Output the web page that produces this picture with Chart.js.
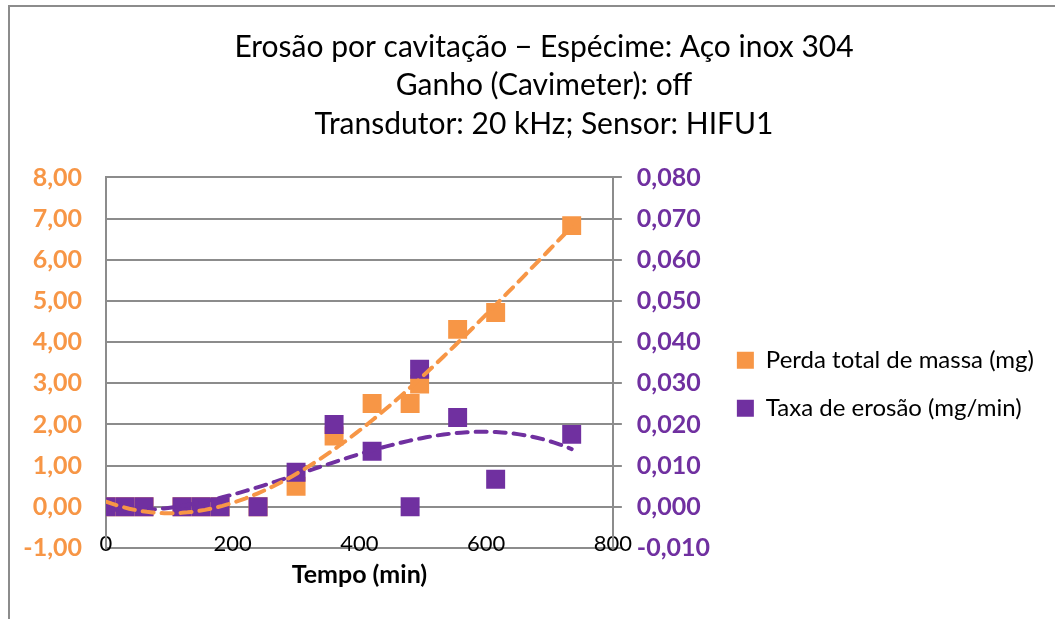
<!DOCTYPE html>
<html>
<head>
<meta charset="utf-8">
<script src="https://cdn.jsdelivr.net/npm/chart.js@4.4.1/dist/chart.umd.min.js"></script>
<style>
  html, body { margin: 0; padding: 0; background: #fff; }
  #wrap { width: 1055px; height: 619px; position: relative; }
</style>
</head>
<body>
<div id="wrap"><canvas id="erosaoChart"></canvas></div>
<script>
// dados
const tempoMin = [0, 30, 60, 120, 150, 180, 240, 300, 360, 420, 480, 495, 555, 615, 735];
const perdaMassa = [0, 0, 0, 0, 0, 0, 0, 0.50, 1.72, 2.51, 2.51, 2.98, 4.31, 4.72, 6.83];
const taxaErosao = [0, 0, 0, 0, 0, 0, 0, 0.0084, 0.0200, 0.0135, 0, 0.0334, 0.0217, 0.0067, 0.0176];
const xTicks = [0, 200, 400, 600, 800];
const massaTicks = [-1, 0, 1, 2, 3, 4, 5, 6, 7, 8];
const taxaTicks = [-0.01, 0, 0.01, 0.02, 0.03, 0.04, 0.05, 0.06, 0.07, 0.08];
const titulo = ['Erosão por cavitação \u2212 Espécime: Aço inox 304', 'Ganho (Cavimeter): off', 'Transdutor: 20 kHz; Sensor: HIFU1'];

const laranja = '#F79646';
const roxo = '#7030A0';
const cinza = '#8c8c8c';

// linha de tendência polinomial (mínimos quadrados), como no Excel
function polyFit(xs, ys, order) {
    const n = order + 1;
    const A = Array.from({ length: n }, () => new Array(n + 1).fill(0));
    xs.forEach((x0, k) => {
        const x = x0 / 100;
        for (let i = 0; i < n; i++) {
            for (let j = 0; j < n; j++) A[i][j] += Math.pow(x, i + j);
            A[i][n] += ys[k] * Math.pow(x, i);
        }
    });
    for (let c = 0; c < n; c++) {
        let p = c;
        for (let r = c + 1; r < n; r++) if (Math.abs(A[r][c]) > Math.abs(A[p][c])) p = r;
        [A[c], A[p]] = [A[p], A[c]];
        for (let r = 0; r < n; r++) {
            if (r === c) continue;
            const f = A[r][c] / A[c][c];
            for (let k = c; k <= n; k++) A[r][k] -= f * A[c][k];
        }
    }
    const coef = A.map((row, i) => row[n] / row[i]);
    return x => coef.reduce((s, a, i) => s + a * Math.pow(x / 100, i), 0);
}

function trendPoints(xs, ys, order) {
    const f = polyFit(xs, ys, order);
    const x0 = Math.min(...xs), x1 = Math.max(...xs);
    const pts = [];
    for (let i = 0; i <= 80; i++) {
        const x = x0 + (x1 - x0) * i / 80;
        pts.push({ x: x, y: f(x) });
    }
    return pts;
}

const toPts = (xs, ys) => xs.map((x, i) => ({ x: x, y: ys[i] }));

const chartBorder = {
    id: 'chartBorder',
    beforeDraw(chart) {
        const c = chart.ctx;
        c.save();
        c.fillStyle = '#fff';
        c.fillRect(0, 0, chart.width, chart.height);
        c.strokeStyle = cinza;
        c.lineWidth = 2;
        c.strokeRect(9, 6, 2000, 2000);
        c.restore();
    }
};

// o título do Excel fica centrado na área do gráfico inteiro (que passa da borda direita)
const tituloDeslocado = {
    id: 'tituloDeslocado',
    afterLayout(chart) {
        chart.titleBlock.left += 12;
        chart.titleBlock.right += 12;
    }
};

const ctx = document.getElementById('erosaoChart').getContext('2d');
new Chart(ctx, {
    type: 'scatter',
    data: {
        datasets: [{
            label: 'Perda total de massa (mg)',
            data: toPts(tempoMin, perdaMassa),
            yAxisID: 'yMassa',
            pointStyle: 'rect',
            pointRadius: 13.4,
            pointHoverRadius: 13.4,
            pointBorderWidth: 0,
            backgroundColor: laranja,
            borderColor: laranja,
            order: 3
        }, {
            label: 'Taxa de erosão (mg/min)',
            data: toPts(tempoMin, taxaErosao),
            yAxisID: 'yTaxa',
            pointStyle: 'rect',
            pointRadius: 13.4,
            pointHoverRadius: 13.4,
            pointBorderWidth: 0,
            backgroundColor: roxo,
            borderColor: roxo,
            order: 2
        }, {
            label: 'trendMassa',
            data: trendPoints(tempoMin, perdaMassa, 3),
            yAxisID: 'yMassa',
            showLine: true,
            pointRadius: 0,
            borderColor: laranja,
            borderWidth: 4,
            borderDash: [11, 8],
            borderCapStyle: 'round',
            tension: 0,
            order: 0
        }, {
            label: 'trendTaxa',
            data: trendPoints(tempoMin, taxaErosao, 3),
            yAxisID: 'yTaxa',
            showLine: true,
            pointRadius: 0,
            borderColor: roxo,
            borderWidth: 4,
            borderDash: [11, 8],
            borderCapStyle: 'round',
            tension: 0,
            order: 1
        }]
    },
    options: {
        responsive: true,
        maintainAspectRatio: false,
        animation: false,
        layout: {
            padding: { left: 20, right: 11, top: 0, bottom: 0 }
        },
        plugins: {
            title: {
                display: true,
                text: titulo,
                color: '#000',
                font: { family: 'Lato', size: 30, weight: 'normal', lineHeight: 1.283 },
                padding: { top: 28, bottom: 34 }
            },
            legend: {
                position: 'right',
                fullSize: false,
                maxWidth: 400,
                title: {
                    display: true,
                    text: ' ',
                    color: 'rgba(0,0,0,0)',
                    font: { size: 10, lineHeight: 1 },
                    padding: { top: 33, bottom: 0 }
                },
                labels: {
                    boxWidth: 17,
                    boxHeight: 17,
                    color: '#000',
                    padding: 24,
                    font: { family: 'Lato', size: 24 },
                    filter: item => item.datasetIndex < 2,
                    sort: (a, b) => a.datasetIndex - b.datasetIndex
                }
            },
            tooltip: { enabled: false }
        },
        scales: {
            x: {
                type: 'linear',
                min: 0,
                max: 800,
                afterBuildTicks: s => { s.ticks = xTicks.map(v => ({ value: v })); },
                afterFit: s => { s.height = 71; },
                ticks: {
                    color: '#000',
                    mirror: true,
                    padding: -9,
                    font: { family: 'Lato', size: 22 }
                },
                grid: { display: false },
                border: { display: false },
                title: {
                    display: true,
                    text: 'Tempo (min)',
                    color: '#000',
                    font: { family: 'Lato', size: 25, weight: 'bold' },
                    padding: { top: 0, bottom: 29 }
                }
            },
            yMassa: {
                position: 'left',
                min: -1,
                max: 8,
                afterBuildTicks: s => { s.ticks = massaTicks.map(v => ({ value: v })); },
                afterFit: s => { s.width = 86; },
                ticks: {
                    color: laranja,
                    padding: 24,
                    font: { family: 'Lato', size: 25, weight: 'bold' },
                    callback: v => v.toFixed(2).replace('.', ',')
                },
                grid: { color: cinza, lineWidth: 2, drawTicks: false },
                border: { display: true, color: cinza, width: 2 }
            },
            yTaxa: {
                position: 'right',
                min: -0.01,
                max: 0.08,
                afterBuildTicks: s => { s.ticks = taxaTicks.map(v => ({ value: v })); },
                afterFit: s => { s.width = 100; },
                ticks: {
                    color: roxo,
                    padding: 15,
                    font: { family: 'Lato', size: 25, weight: 'bold' },
                    callback: v => v.toFixed(3).replace('.', ',')
                },
                grid: { color: cinza, lineWidth: 2, drawOnChartArea: false, drawTicks: true, tickLength: 9 },
                border: { display: true, color: cinza, width: 2 }
            }
        }
    },
    plugins: [chartBorder, tituloDeslocado]
});
</script>
</body>
</html>
